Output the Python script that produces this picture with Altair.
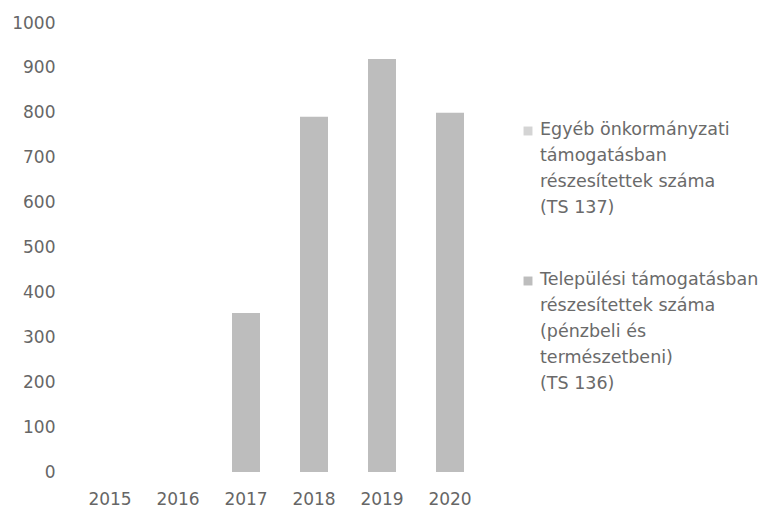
import altair as alt
import pandas as pd

years = ["2015", "2016", "2017", "2018", "2019", "2020"]
series_names = [
    "Egyéb önkormányzati\ntámogatásban\nrészesítettek száma\n(TS 137)",
    "Települési támogatásban\nrészesítettek száma\n(pénzbeli és\ntermészetbeni)\n(TS 136)",
]
ts137 = [0, 0, 0, 0, 0, 0]
ts136 = [0, 0, 354, 791, 920, 800]
colors = ["#d4d4d4", "#bdbdbd"]
y_ticks = [0, 100, 200, 300, 400, 500, 600, 700, 800, 900, 1000]

rows = []
for i, y in enumerate(years):
    rows.append({"year": y, "series": series_names[0], "value": ts137[i], "order": 0})
    rows.append({"year": y, "series": series_names[1], "value": ts136[i], "order": 1})
df = pd.DataFrame(rows)

FONT = "DejaVu Sans"
W, H = 408, 449

bars = alt.Chart(df).mark_bar(size=28).encode(
    x=alt.X("year:N", sort=years, title=None,
            axis=alt.Axis(labelAngle=0, domain=False, ticks=False, labelPadding=19,
                          labelFontSize=17, labelColor="#666666", labelFont=FONT)),
    y=alt.Y("value:Q", stack="zero", title=None,
            scale=alt.Scale(domain=[0, 1000]),
            axis=alt.Axis(values=y_ticks, format="d", grid=False, domain=False, ticks=False,
                          labelPadding=21, labelFontSize=17, labelColor="#666666",
                          labelFont=FONT)),
    color=alt.Color("series:N", scale=alt.Scale(domain=series_names, range=colors),
                    legend=None),
    order=alt.Order("order:Q"),
)

one = alt.Data(values=[{"k": 0}])
legend_layers = []
entry_y = [99, 249]
for i, name in enumerate(series_names):
    sq = alt.Chart(one).mark_square(size=80, color=colors[i], opacity=1).encode(
        x=alt.value(452), y=alt.value(entry_y[i] + 9))
    tx = alt.Chart(one).mark_text(
        text=name, lineBreak="\n", lineHeight=26, align="left", baseline="top",
        font=FONT, fontSize=17.5, color="#6a6a6a").encode(
        x=alt.value(464), y=alt.value(entry_y[i] - 1))
    legend_layers += [sq, tx]

chart = alt.layer(bars, *legend_layers).properties(
    width=W, height=H,
    autosize=alt.AutoSizeParams(type="none"),
    padding={"left": 68, "top": 15, "right": 284, "bottom": 40},
).configure_view(stroke=None).configure_axis(labelFont=FONT)

chart.save("out.html", embed_options={"renderer": "svg", "actions": False})
